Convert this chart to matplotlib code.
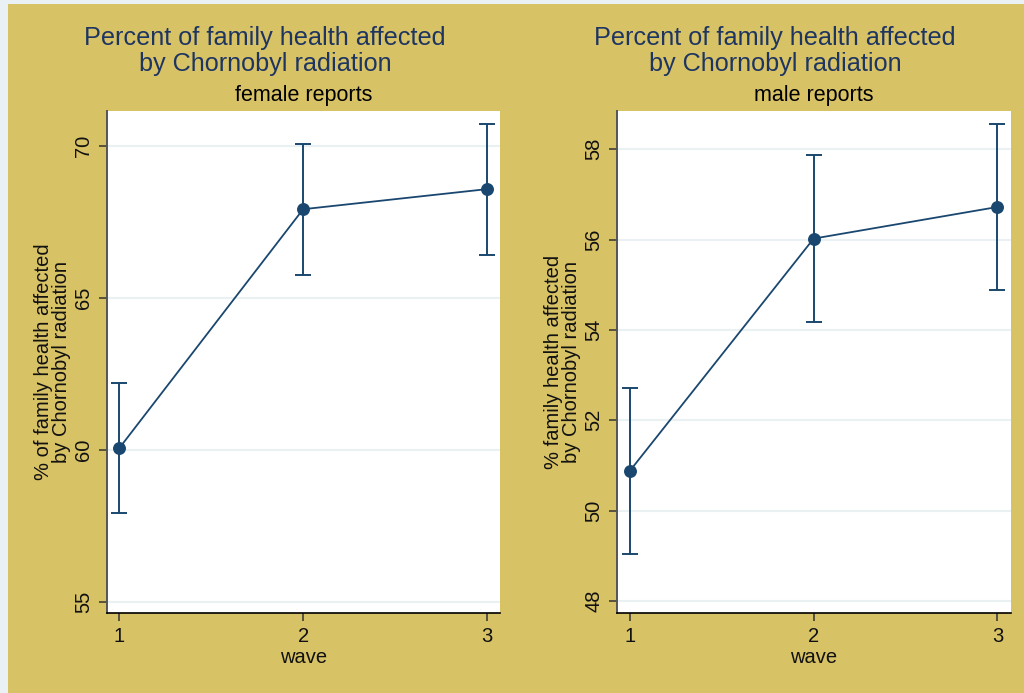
import numpy as np
import matplotlib
matplotlib.use("Agg")
import matplotlib.pyplot as plt
from matplotlib.patches import Rectangle

plt.rcParams['font.family'] = ['Liberation Sans', 'DejaVu Sans']

# wave means with 95% CI, one set per sex
waves = [1, 2, 3]
female_mean = [60.06, 67.91, 68.57]
female_lo = [57.91, 65.75, 66.41]
female_hi = [62.20, 70.05, 70.71]
male_mean = [50.88, 56.02, 56.72]
male_lo = [49.05, 54.18, 54.89]
male_hi = [52.71, 57.86, 58.56]

female_ticks = [55, 60, 65, 70]
male_ticks = [48, 50, 52, 54, 56, 58]

GOLD = '#d8c266'
NAVY = '#1a476f'
TITLE_C = '#1e3561'
W, H = 1024, 693

fig = plt.figure(figsize=(W / 100, H / 100), dpi=100, facecolor='#e9f1f4')
fig.patches.append(Rectangle((8 / W, 0), 1 - 8 / W, 1 - 4 / H, transform=fig.transFigure,
                             facecolor=GOLD, edgecolor='none', zorder=-10))


def px_axes(x0, y0, x1, y1):
    return fig.add_axes([x0 / W, 1 - y1 / H, (x1 - x0) / W, (y1 - y0) / H])


def panel(ax, mean, lo, hi, ticks, ylim, sub, ylab, title_x):
    mean = np.array(mean)
    err = [mean - np.array(lo), np.array(hi) - mean]
    ax.errorbar(waves, mean, yerr=err, fmt='none', ecolor=NAVY, elinewidth=1.4,
                capsize=5.5, capthick=1.4, zorder=3)
    ax.plot(waves, mean, '-', color=NAVY, lw=1.3, zorder=4)
    ax.plot(waves, mean, 'o', color=NAVY, ms=8.3, zorder=5)
    ax.set_xlim(0.932, 3.072)
    ax.set_ylim(*ylim)
    ax.set_xticks(waves)
    ax.set_yticks(ticks)
    ax.set_facecolor('white')
    ax.grid(axis='y', color='#eaf1f3', lw=1.5, zorder=0)
    ax.set_axisbelow(True)
    for s in ('top', 'right'):
        ax.spines[s].set_visible(False)
    ax.spines['left'].set_color('#555555')
    ax.spines['left'].set_linewidth(1.4)
    ax.spines['bottom'].set_color('black')
    ax.spines['bottom'].set_linewidth(1.2)
    ax.tick_params(axis='both', length=5.8, width=1.1, color='#333333',
                   labelsize=14.5, labelcolor='#111111')
    ax.tick_params(axis='x', pad=4)
    ax.tick_params(axis='y', pad=4.3)
    for t in ax.get_yticklabels():
        t.set_rotation(90)
        t.set_va('center')
    ax.set_xlabel('wave', fontsize=14.5, labelpad=1.5, color='#111111')
    ax.set_ylabel(ylab, fontsize=14.5, labelpad=2.2, color='#111111', linespacing=0.92)
    # heading block above the plot region
    fig.text(title_x / W, 1 - 45.5 / H, 'Percent of family health affected',
             ha='center', va='baseline', fontsize=18.2, color=TITLE_C)
    fig.text(title_x / W, 1 - 71 / H, 'by Chornobyl radiation',
             ha='center', va='baseline', fontsize=18.2, color=TITLE_C)
    pos = ax.get_position()
    fig.text(pos.x0 + pos.width / 2, 1 - 101 / H, sub,
             ha='center', va='baseline', fontsize=15.5, color='black')


ax1 = px_axes(107, 110.7, 500, 613.3)
panel(ax1, female_mean, female_lo, female_hi, female_ticks, (54.62, 71.15),
      'female reports', '% of family health affected\nby Chornobyl radiation', 265)

ax2 = px_axes(617.3, 110.7, 1010.7, 613.3)
panel(ax2, male_mean, male_lo, male_hi, male_ticks, (47.73, 58.85),
      'male reports', '% family health affected\nby Chornobyl radiation', 775)

fig.savefig('out.png', dpi=100, facecolor=fig.get_facecolor())
